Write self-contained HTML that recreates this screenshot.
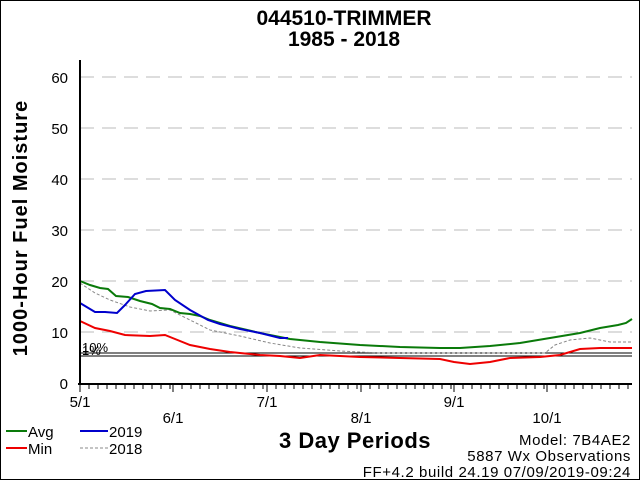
<!DOCTYPE html><html><head><style>body{margin:0;background:#fff}svg{display:block}text{font-family:"Liberation Sans",Arial,sans-serif}</style></head><body>
<svg width="640" height="480" viewBox="0 0 640 480">
<rect x="0.5" y="0.5" width="639" height="479" fill="#fff" stroke="#000"/>
<text x="344" y="25" font-size="21" font-weight="bold" text-anchor="middle">044510-TRIMMER</text>
<text x="344" y="46" font-size="21" font-weight="bold" text-anchor="middle">1985 - 2018</text>
<g stroke="#bbb" stroke-dasharray="14,8" stroke-width="1">
<line x1="80" y1="77" x2="632" y2="77"/><line x1="80" y1="128" x2="632" y2="128"/><line x1="80" y1="179" x2="632" y2="179"/><line x1="80" y1="230" x2="632" y2="230"/><line x1="80" y1="281" x2="632" y2="281"/><line x1="80" y1="332" x2="632" y2="332"/></g>
<g font-size="15" fill="#000" text-anchor="end">
<text x="68" y="83">60</text><text x="68" y="134">50</text><text x="68" y="185">40</text><text x="68" y="236">30</text><text x="68" y="287">20</text><text x="68" y="338">10</text><text x="68" y="389">0</text></g>
<text transform="translate(27,228) rotate(-90)" font-size="20" font-weight="bold" letter-spacing="1" text-anchor="middle">1000-Hour Fuel Moisture</text>
<line x1="80" y1="353" x2="632" y2="353" stroke="#000"/><line x1="80" y1="356" x2="632" y2="356" stroke="#000"/>
<text x="82" y="352" font-size="13">10%</text><text x="82" y="355" font-size="13">1%</text>
<polyline fill="none" stroke="#888" stroke-width="1" stroke-dasharray="3,2" points="80,283 95,293 110,300 130,307 150,311 170,310 190,320 210,330 240,336 270,343 300,348 340,351 380,353 430,353 470,353 500,353 545,353 555,345 570,340 590,338 600,340 610,342 632,342"/>
<polyline fill="none" stroke="#0a7a0a" stroke-width="2" points="80,281 90,285 100,288 108,289 116,296 128,297 140,301 152,304 160,308 170,309 180,313 190,314 200,316 210,320 230,326 260,333 290,339 320,342 360,345 400,347 440,348 460,348 490,346 520,343 550,338 580,333 600,328 618,325 626,323 632,319"/>
<polyline fill="none" stroke="#e00" stroke-width="2" points="80,321 95,328 110,331 125,335 150,336 165,335 175,339 190,345 210,349 230,352 260,355 280,356 300,358 320,355 360,357 400,358 440,359 454,362 470,364 490,362 510,358 540,357 560,355 580,349 600,348 632,348"/>
<polyline fill="none" stroke="#00c" stroke-width="2" points="80,303 95,312 105,312 117,313 125,305 135,294 146,291 165,290 175,300 190,310 208,320 220,324 240,329 260,333 280,338 288,338"/>
<line x1="80" y1="60" x2="80" y2="385" stroke="#000" stroke-width="2"/>
<line x1="78" y1="384" x2="632" y2="384" stroke="#000" stroke-width="2"/>
<path d="M80 384v8M89 384v5M98 384v5M107 384v5M116 384v5M125 384v5M134 384v5M143 384v5M152 384v5M161 384v5M170 384v5M173 384v8M182 384v5M191 384v5M200 384v5M209 384v5M218 384v5M227 384v5M236 384v5M245 384v5M254 384v5M263 384v5M267 384v8M276 384v5M285 384v5M294 384v5M303 384v5M312 384v5M321 384v5M330 384v5M339 384v5M348 384v5M357 384v5M361 384v8M370 384v5M379 384v5M388 384v5M397 384v5M406 384v5M415 384v5M424 384v5M433 384v5M442 384v5M451 384v5M454 384v8M463 384v5M472 384v5M481 384v5M490 384v5M499 384v5M508 384v5M517 384v5M526 384v5M535 384v5M544 384v5M547 384v8M556 384v5M565 384v5M574 384v5M583 384v5M592 384v5M601 384v5M610 384v5M619 384v5M628 384v5" stroke="#000"/>
<g font-size="15" text-anchor="middle"><text x="80" y="407">5/1</text><text x="173" y="423">6/1</text><text x="267" y="407">7/1</text><text x="361" y="423">8/1</text><text x="454" y="407">9/1</text><text x="547" y="423">10/1</text></g>
<line x1="6" y1="431" x2="27" y2="431" stroke="#0a7a0a" stroke-width="2"/><text x="28" y="437" font-size="15">Avg</text>
<line x1="6" y1="448" x2="27" y2="448" stroke="#e00" stroke-width="2"/><text x="28" y="454" font-size="15">Min</text>
<line x1="80" y1="431" x2="108" y2="431" stroke="#00c" stroke-width="2"/><text x="109" y="437" font-size="15">2019</text>
<line x1="80" y1="448" x2="108" y2="448" stroke="#888" stroke-dasharray="3,2"/><text x="109" y="454" font-size="15">2018</text>
<text x="355" y="448" font-size="22" font-weight="bold" letter-spacing="0.5" text-anchor="middle">3 Day Periods</text>
<g font-size="15" text-anchor="end" letter-spacing="0.6"><text x="631" y="445">Model: 7B4AE2</text><text x="631" y="461">5887 Wx Observations</text><text x="631" y="477">FF+4.2 build 24.19 07/09/2019-09:24</text></g>
</svg></body></html>
